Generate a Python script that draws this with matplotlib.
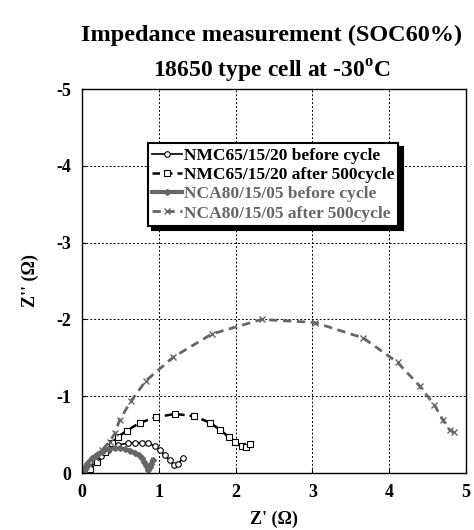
import matplotlib
matplotlib.use("Agg")
import matplotlib.pyplot as plt

plt.rcParams['font.family'] = ['Liberation Serif', 'DejaVu Serif']
plt.rcParams['font.weight'] = 'bold'

# Nyquist data (Z' in ohm, Z'' in ohm, negative = capacitive)
nmc_before_x = [0.05, 0.10, 0.17, 0.25, 0.34, 0.47, 0.60, 0.69, 0.78, 0.86, 0.95, 1.02, 1.08, 1.14, 1.20, 1.25, 1.31]
nmc_before_y = [-0.02, -0.08, -0.15, -0.22, -0.30, -0.365, -0.39, -0.395, -0.395, -0.39, -0.35, -0.30, -0.23, -0.17, -0.10, -0.12, -0.19]

nmc_after_x = [0.05, 0.10, 0.20, 0.30, 0.39, 0.47, 0.58, 0.755, 0.96, 1.21, 1.46, 1.67, 1.80, 1.91, 1.99, 2.08, 2.14, 2.19]
nmc_after_y = [-0.01, -0.05, -0.15, -0.28, -0.39, -0.47, -0.55, -0.655, -0.725, -0.77, -0.74, -0.655, -0.56, -0.47, -0.41, -0.35, -0.34, -0.38]

nca_before_x = [0.02, 0.06, 0.13, 0.19, 0.26, 0.34, 0.43, 0.50, 0.56, 0.63, 0.69, 0.74, 0.78, 0.81, 0.83, 0.855, 0.88, 0.90, 0.92]
nca_before_y = [-0.04, -0.12, -0.19, -0.24, -0.28, -0.31, -0.32, -0.32, -0.31, -0.29, -0.26, -0.23, -0.19, -0.15, -0.10, -0.04, -0.08, -0.12, -0.17]

nca_after_x = [0.05, 0.10, 0.18, 0.26, 0.36, 0.43, 0.49, 0.64, 0.83, 1.19, 1.69, 2.34, 3.03, 3.66, 4.11, 4.40, 4.59, 4.70, 4.79, 4.84]
nca_after_y = [-0.02, -0.10, -0.20, -0.30, -0.41, -0.52, -0.69, -0.94, -1.20, -1.51, -1.81, -2.00, -1.96, -1.76, -1.44, -1.13, -0.885, -0.69, -0.56, -0.53]

gray = '#666666'

fig = plt.figure(figsize=(4.74, 5.30), dpi=100)
ax = fig.add_axes([0.173, 0.1075, 0.810, 0.7245])

ax.plot(nmc_before_x, nmc_before_y, color='black', lw=1.2, marker='o', ms=4,
        mfc='white', mec='black', mew=0.8, label='NMC65/15/20 before cycle')
ax.plot(nmc_after_x, nmc_after_y, color='black', lw=1.8, ls=(0, (3, 2)), marker='s', ms=5,
        mfc='white', mec='black', mew=0.8, label='NMC65/15/20 after 500cycle')
ax.plot(nca_before_x, nca_before_y, color=gray, lw=3, marker='D', ms=3,
        mfc=gray, mec=gray, label='NCA80/15/05 before cycle')
ax.plot(nca_after_x, nca_after_y, color=gray, lw=2, ls=(0, (3, 2)), marker='x', ms=5,
        mec=gray, mew=1, label='NCA80/15/05 after 500cycle')

ax.set_xlim(0, 5)
ax.set_ylim(0, -5)
ax.set_xticks([0, 1, 2, 3, 4, 5])
ax.set_yticks([0, -1, -2, -3, -4, -5])
ax.set_yticklabels(['0', '-1', '-2', '-3', '-4', '-5'])
ax.tick_params(labelsize=13, length=3, direction='in', pad=8)
ax.grid(True, color='black', ls=(0, (2, 2)), lw=0.7)
for s in ax.spines.values():
    s.set_linewidth(1.0)

ax.set_xlabel("Z' (Ω)", fontsize=13, fontweight='bold', labelpad=7)
ax.set_ylabel("Z'' (Ω)", fontsize=13, fontweight='bold', labelpad=12)

fig.text(0.573, 0.934, 'Impedance measurement (SOC60%)', ha='center', va='center',
         fontsize=17.5, fontweight='bold')
fig.text(0.573, 0.866, '18650 type cell at -30$^\\mathregular{o}$C', ha='center', va='center',
         fontsize=17, fontweight='bold')

leg = ax.legend(loc='upper left', bbox_to_anchor=(0.172, 0.859), borderaxespad=0,
                fontsize=12.5, handlelength=1.7, handletextpad=0.1, labelspacing=0.18,
                borderpad=0.25, fancybox=False, framealpha=1, edgecolor='black',
                shadow={'color': 'black', 'alpha': 1, 'ox': 3, 'oy': -3})
leg.get_frame().set_linewidth(1.5)
for t, c in zip(leg.get_texts(), ['black', 'black', gray, gray]):
    t.set_color(c)

fig.savefig('out.png', dpi=100)
